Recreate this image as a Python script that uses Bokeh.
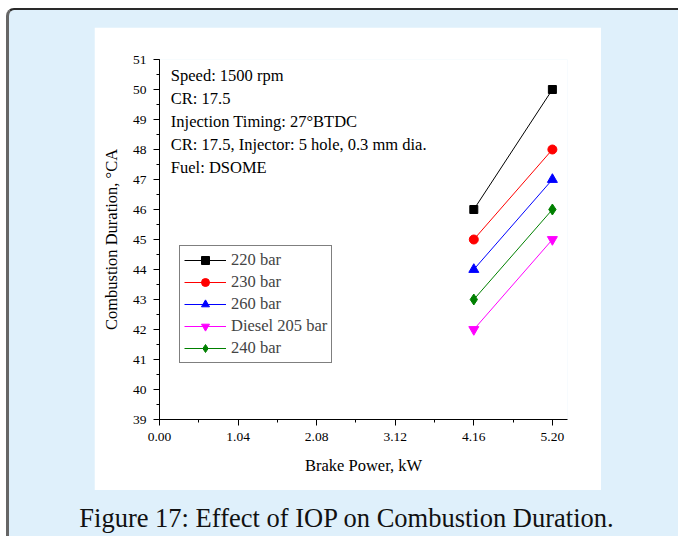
from bokeh.plotting import figure
from bokeh.models import (Label, Legend, LegendItem, FixedTicker, SingleIntervalTicker,
                          Div, Spacer, Range1d)
from bokeh.layouts import column, row
from bokeh.embed import file_html
from bokeh.resources import INLINE

# ---- data ----
brake_power = [4.16, 5.20]
series_names = ["220 bar", "230 bar", "260 bar", "Diesel 205 bar", "240 bar"]
dur_220 = [46, 50]
dur_230 = [45, 48]
dur_260 = [44, 47]
dur_diesel205 = [42, 45]
dur_240 = [43, 46]
x_ticks = [0.0, 1.04, 2.08, 3.12, 4.16, 5.20]
x_tick_labels = ["0.00", "1.04", "2.08", "3.12", "4.16", "5.20"]
x_minor_ticks = [0.52, 1.56, 2.60, 3.64, 4.68]
notes = ["Speed: 1500 rpm", "CR: 17.5", "Injection Timing: 27°BTDC",
         "CR: 17.5, Injector: 5 hole, 0.3 mm dia.", "Fuel: DSOME"]
caption = "Figure 17: Effect of IOP on Combustion Duration."

FONT = "Liberation Serif"

p = figure(width=507, height=463, output_backend="svg", toolbar_location=None,
           x_range=Range1d(0, 5.4), y_range=Range1d(39, 51),
           min_border_left=65, min_border_right=34, min_border_top=32, min_border_bottom=71,
           border_fill_color="white", background_fill_color="white", outline_line_color=None)
p.grid.visible = False

# axes
p.xaxis.ticker = FixedTicker(ticks=x_ticks, minor_ticks=x_minor_ticks)
p.xaxis.major_label_overrides = {t: l for t, l in zip(x_ticks, x_tick_labels)}
p.yaxis.ticker = SingleIntervalTicker(interval=1, num_minor_ticks=2)
p.xaxis.axis_label = "Brake Power, kW"
p.yaxis.axis_label = "Combustion Duration, °CA"
for ax in (p.xaxis, p.yaxis):
    ax.axis_line_color = "black"
    ax.major_tick_line_color = "black"
    ax.minor_tick_line_color = "black"
    ax.major_tick_in = 0
    ax.major_tick_out = 6
    ax.minor_tick_in = 0
    ax.minor_tick_out = 3
    ax.major_label_text_font = FONT
    ax.major_label_text_font_size = "13.5px"
    ax.major_label_text_color = "black"
    ax.axis_label_text_font = FONT
    ax.axis_label_text_font_size = "16.5px"
    ax.axis_label_text_font_style = "normal"
    ax.axis_label_text_color = "black"
p.xaxis.major_label_standoff = 7
p.xaxis.axis_label_standoff = 12
p.yaxis.major_label_standoff = 7
p.yaxis.axis_label_standoff = 9

# series
specs = [
    (dur_220, "black", "square", 8),
    (dur_230, "red", "circle", 9),
    (dur_260, "blue", "triangle", 10),
    (dur_diesel205, "magenta", "inverted_triangle", 10),
    (dur_240, "green", "diamond", 11),
]
items = []
for name, (vals, color, marker, size) in zip(series_names, specs):
    ln = p.line(brake_power, vals, line_color=color, line_width=1)
    sc = p.scatter(brake_power, vals, marker=marker, size=size, fill_color=color, line_color=color)
    items.append(LegendItem(label=name, renderers=[ln, sc]))

legend = Legend(items=items, location=(20, 56), margin=0, padding=4, spacing=2,
                glyph_width=42, glyph_height=20, label_height=20, label_standoff=5,
                label_text_font=FONT, label_text_font_size="16.5px",
                border_line_color="black", border_line_width=1,
                background_fill_color="white", background_fill_alpha=1)
p.add_layout(legend)

# notes
for i, t in enumerate(notes):
    p.add_layout(Label(x=0.15, y=50.47 - i * 0.765, text=t, text_font=FONT,
                       text_font_size="16.5px", text_baseline="middle", text_color="black"))

cap = Div(text=f'<div style="font-family:\'{FONT}\'; font-size:26.5px; color:#111; '
               f'text-align:center; padding-top:5px; width:665px;">{caption}</div>',
          width=665, height=48)

box = column(
    Spacer(height=17),
    row(Spacer(width=85), p),
    cap,
    width=672, height=528,
    styles={"background-color": "#dff0fb", "border-top": "2px solid #2a2a2a",
            "border-left": "3px solid #666", "border-top-left-radius": "8px"},
)

layout = row(Spacer(width=6), column(Spacer(height=8), box))

open("out.html", "w").write(file_html(layout, INLINE))
